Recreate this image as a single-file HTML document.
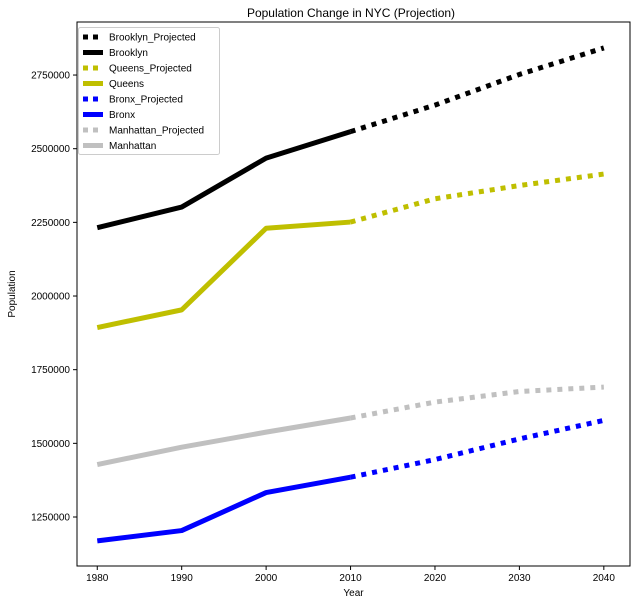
<!DOCTYPE html>
<html><head><meta charset="utf-8"><style>
body{margin:0;background:#fff;font-family:"Liberation Sans","DejaVu Sans",sans-serif}
svg text{font-family:"Liberation Sans","DejaVu Sans",sans-serif;font-size:10px;fill:#000}
</style></head><body>
<svg id="chart" width="641" height="604">
<rect width="641" height="604" fill="#fff"/>
<text x="351" y="17" text-anchor="middle" style="font-size:12px">Population Change in NYC (Projection)</text>
<g id="plot"></g>
</svg>
<script>
const years=[1980,1990,2000,2010];
const projYears=[2010,2020,2030,2040];
const brooklyn=[2232000,2302000,2468000,2558000];
const brooklynProj=[2558000,2648000,2752000,2842000];
const queens=[1893000,1953000,2230000,2251000];
const queensProj=[2251000,2330000,2375000,2414000];
const bronx=[1169000,1204000,1333000,1385000];
const bronxProj=[1385000,1445000,1515000,1578000];
const manhattan=[1428000,1487000,1538000,1586000];
const manhattanProj=[1586000,1640000,1676000,1691000];
const xTicks=[1980,1990,2000,2010,2020,2030,2040];
const yTicks=[1250000,1500000,1750000,2000000,2250000,2500000,2750000];
const L=77,R=630,T=22,B=566;
const xMin=1977.6,xMax=2043.1,yMin=1083700,yMax=2930000;
function xs(v){return L+(v-xMin)/(xMax-xMin)*(R-L);}
function ys(v){return B-(v-yMin)/(yMax-yMin)*(B-T);}
const NS="http://www.w3.org/2000/svg";
const g=document.getElementById('plot');
function mk(t,a,p){const e=document.createElementNS(NS,t);for(const k in a)e.setAttribute(k,a[k]);(p||g).appendChild(e);return e;}
xTicks.forEach(v=>{
 const l=mk('line',{x1:xs(v),x2:xs(v),y1:B,y2:B+4,stroke:'#000'});
 
 
 const t=mk('text',{x:xs(v),y:B+15,'text-anchor':'middle'});t.textContent=v;
 
 
});
yTicks.forEach(v=>{
 const l=mk('line',{x1:L-4,x2:L,y1:ys(v),y2:ys(v),stroke:'#000'});
 
 
 const t=mk('text',{x:L-7,y:ys(v)+3.5,'text-anchor':'end'});t.textContent=v;
 
 
});
const series=[
 [brooklynProj,projYears,'#000',true,'brooklyn-projected-line'],
 [brooklyn,years,'#000',false,'brooklyn-line'],
 [queensProj,projYears,'#bfbf00',true,'queens-projected-line'],
 [queens,years,'#bfbf00',false,'queens-line'],
 [bronxProj,projYears,'#0000ff',true,'bronx-projected-line'],
 [bronx,years,'#0000ff',false,'bronx-line'],
 [manhattanProj,projYears,'#c0c0c0',true,'manhattan-projected-line'],
 [manhattan,years,'#c0c0c0',false,'manhattan-line']];
series.forEach(s=>{
 const pts=s[0].map((v,i)=>xs(s[1][i])+','+ys(v)).join(' ');
 const a={points:pts,fill:'none',stroke:s[2],'stroke-width':5,'stroke-linejoin':'round'};
 if(s[3])a['stroke-dasharray']='5,6';
 const p=mk('polyline',a);
 
 
});
mk('rect',{x:L,y:T,width:R-L,height:B-T,fill:'none',stroke:'#000','stroke-width':1});
const xl=mk('text',{x:(L+R)/2,y:596,'text-anchor':'middle'});xl.textContent='Year';


const yl=mk('text',{x:15,y:(T+B)/2,'text-anchor':'middle',transform:'rotate(-90 15 '+((T+B)/2)+')'});yl.textContent='Population';


const lg=mk('g',{});


mk('rect',{x:78.5,y:27.5,width:141,height:127,fill:'#fff',stroke:'#ccc',rx:2},lg);
const names=['Brooklyn_Projected','Brooklyn','Queens_Projected','Queens','Bronx_Projected','Bronx','Manhattan_Projected','Manhattan'];
names.forEach((n,i)=>{
 const y=37+i*15.5,s=series[i];
 const a={x1:83,x2:103,y1:y,y2:y,stroke:s[2],'stroke-width':5};
 if(s[3])a['stroke-dasharray']='5,5';
 const l=mk('line',a,lg);
 
 
 const t=mk('text',{x:109,y:y+3.5},lg);t.textContent=n;
 
 
});
</script>
</body></html>
